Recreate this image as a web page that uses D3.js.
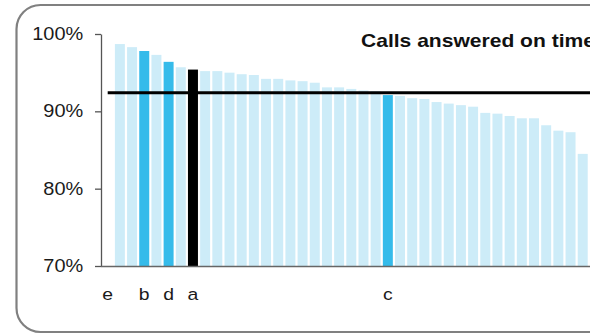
<!DOCTYPE html>
<html>
<head>
<meta charset="utf-8">
<script src="https://cdn.jsdelivr.net/npm/d3@7"></script>
<style>
  html, body { margin: 0; padding: 0; background: #fff; }
  svg { display: block; font-family: "Liberation Sans", Arial, sans-serif; }
</style>
</head>
<body>
<svg id="chart" width="590" height="334"></svg>
<script>
// Share of calls answered on time, one bar per provider, sorted descending.
// The first slot ("e") is labelled but carries no bar.
const categories = [
  "e", "p01", "p02", "b", "p04", "d", "p06", "a", "p08", "p09",
  "p10", "p11", "p12", "p13", "p14", "p15", "p16", "p17", "p18", "p19",
  "p20", "p21", "p22", "c", "p24", "p25", "p26", "p27", "p28", "p29",
  "p30", "p31", "p32", "p33", "p34", "p35", "p36", "p37", "p38", "p39"
];
const values = [
  null, 98.7, 98.3, 97.8, 97.3, 96.4, 95.7, 95.4, 95.2, 95.2,
  95.0, 94.8, 94.7, 94.2, 94.2, 94.0, 93.9, 93.7, 93.1, 93.1,
  92.9, 92.7, 92.6, 92.1, 92.0, 91.7, 91.6, 91.2, 91.0, 90.8,
  90.6, 89.8, 89.7, 89.4, 89.1, 89.1, 88.2, 87.5, 87.3, 84.5
];
const tickLabels = { e: "e", b: "b", d: "d", a: "a", c: "c" };
const highlighted = ["b", "d", "c"];
const focus = ["a"];
const average = 92.4;
const yTicks = [70, 80, 90, 100];
const title = "Calls answered on time";

const data = categories.map((id, i) => ({ id, value: values[i] }));

const svg = d3.select("#chart");
const stretch = "scale(1.14,1)";

// frame
svg.append("rect")
  .attr("x", 16.5).attr("y", 5).attr("width", 760).attr("height", 327)
  .attr("rx", 24).attr("ry", 24)
  .attr("fill", "none").attr("stroke", "#808080").attr("stroke-width", 2.2);

const plot = { left: 101, top: 34, bottom: 266 };
const step = 12.18;
const x = d3.scaleBand()
  .domain(categories)
  .range([plot.left, plot.left + step * (categories.length - 0.18 + 0.28)])
  .paddingInner(0.18).paddingOuter(0.14);
const y = d3.scaleLinear().domain([70, 100]).range([plot.bottom, plot.top]);

function colorOf(id) {
  if (focus.includes(id)) return "#000000";
  if (highlighted.includes(id)) return "#35bbea";
  return "#cdecf8";
}

svg.append("g").selectAll("rect")
  .data(data.filter(d => d.value != null))
  .join("rect")
  .attr("x", d => x(d.id))
  .attr("width", x.bandwidth())
  .attr("y", d => y(d.value))
  .attr("height", d => y(70) - y(d.value))
  .attr("fill", d => colorOf(d.id));

// average line
svg.append("line")
  .attr("x1", x("e") + x.bandwidth() / 2).attr("x2", 600)
  .attr("y1", y(average)).attr("y2", y(average))
  .attr("stroke", "#000").attr("stroke-width", 3);

// y axis
const yAxis = svg.append("g")
  .attr("transform", `translate(${plot.left},0)`)
  .call(d3.axisLeft(y).tickValues(yTicks).tickFormat(d => d + "%")
    .tickSize(6).tickPadding(9.6).tickSizeOuter(0));
yAxis.select(".domain").attr("stroke", "#555").attr("stroke-width", 1.3);
yAxis.selectAll(".tick line").attr("stroke", "#555").attr("stroke-width", 1.3);
yAxis.selectAll(".tick text")
  .attr("font-size", 17.5).attr("fill", "#1a1a1a")
  .attr("font-family", "Liberation Sans, Arial, sans-serif")
  .attr("transform", stretch);

// x axis
const xAxis = svg.append("g")
  .attr("transform", `translate(0,${plot.bottom})`)
  .call(d3.axisBottom(x).tickSize(0).tickPadding(22).tickSizeOuter(0)
    .tickFormat(id => tickLabels[id] || ""));
xAxis.select(".domain").attr("stroke", "#666").attr("stroke-width", 1.6)
  .attr("d", `M${plot.left},0.5H600`);
xAxis.selectAll(".tick text")
  .attr("font-size", 17).attr("fill", "#1a1a1a")
  .attr("font-family", "Liberation Sans, Arial, sans-serif")
  .attr("transform", stretch);

// title, running past the right edge of the frame
svg.append("text")
  .attr("transform", "translate(361,47) scale(1.17,1)")
  .attr("font-size", 18).attr("font-weight", "bold").attr("fill", "#111")
  .text(title);
</script>
</body>
</html>
